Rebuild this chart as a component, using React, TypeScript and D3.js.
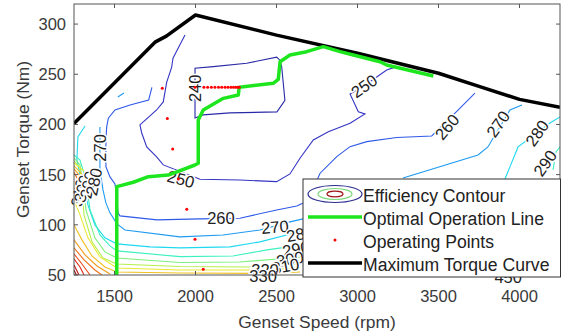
import React from 'react';
import * as d3 from 'd3';

const W = 569;
const H = 335;
const M = { left: 74, right: 560, top: 4, bottom: 275 };

const speedDomain = [1250, 4250];
const torqueDomain = [50, 320];
const speedTicks = [1500, 2000, 2500, 3000, 3500, 4000];
const torqueTicks = [50, 100, 150, 200, 250, 300];

// Maximum torque curve
const maxTorqueSpeed = [1250, 1750, 1820, 2000, 2500, 3000, 3500, 3750, 4000, 4250];
const maxTorqueValue = [201, 282, 288, 309, 289, 271, 251, 238, 225, 217];

// Optimal operation line
const optimalSpeed = [1514, 1514, 1616, 1709, 1832, 1997, 2017, 2017, 2048, 2172, 2264, 2270, 2480, 2511, 2522, 2583, 2686, 2789, 2892, 2974, 3139, 3180, 3468];
const optimalTorque = [50, 138, 142.4, 148, 149.6, 159.6, 161.3, 204.4, 214.4, 226, 229.3, 237, 241, 245, 262.5, 269.2, 272.5, 277.5, 272.5, 269.2, 262.5, 259.2, 248.3];

// Operating points
const pointSpeed = [1795, 1826, 1859, 1894, 1946, 1997, 2048, 1997, 2052, 2075, 2098, 2120, 2142, 2162, 2182, 2200, 2218, 2234, 2248, 2260, 2270];
const pointTorque = [236, 206, 175.5, 145.6, 115.5, 85.6, 55.7, 237, 237, 237, 237, 237, 237, 237, 237, 237, 237, 237, 237, 237, 237];

// BSFC contour lines (g/kWh), points are [speed rpm, torque Nm]
const c240 = [[1997, 218], [1997, 206.5], [2047, 209.5], [2213, 211.5], [2503, 212.5], [2552, 224], [2540, 244], [2532, 257.6], [2521, 264], [2501, 267], [2316, 261], [2110, 257.6], [1997, 256], [1997, 218]];
const c250 = [[1935, 289], [1861, 266], [1853, 257], [1822, 242], [1801, 222.4], [1760, 214.4], [1657, 199.5], [1668, 191.5], [1699, 177.6], [1760, 167.6], [1801, 159.7], [2028, 145.4], [2274, 144.7], [2501, 143], [2583, 150.7], [2645, 166.3], [2727, 184.6], [2820, 192.8], [2954, 201.2], [3046, 210.5], [3005, 212.7], [2954, 230.4], [3040, 238.3], [3180, 254.3], [3242, 257.6]];
const c260 = [[1731, 237], [1711, 224.4], [1596, 219.4], [1503, 214.4], [1462, 206.2], [1452, 197.8], [1447, 184.6], [1447, 158], [1472, 147.7], [1503, 140.7], [1515, 124.8], [1522, 111.8], [1534, 108.9], [1762, 104.9], [2028, 105.9], [2274, 106.6], [2501, 114.8], [2625, 118.8], [2686, 123.1], [2756, 146.7], [2769, 151.4], [2872, 167.9], [2954, 177.9], [3057, 182.9], [3242, 187], [3458, 188.5], [3602, 211.2], [3725, 231.1]];
const c270a = [[1410, 197.5], [1410, 154.7], [1429, 134.8], [1447, 121.8], [1472, 111.9], [1515, 100.9], [1565, 94.9], [1904, 88], [2170, 89.9], [2398, 94.9], [2583, 102.9], [2664, 105.9]];
const c270b = [[3281, 146.7], [3744, 169.6], [3805, 177.6], [3941, 214.4], [4015, 219.4]];
const c270c = [[1521, 227.4], [1558, 231.4]];
const c280a = [[1318, 198.5], [1274, 187.5], [1268, 164.6], [1287, 149.7], [1318, 134.8], [1336, 119.8], [1379, 99.9], [1441, 87], [1515, 81], [1719, 78], [1904, 77], [2213, 78], [2398, 83], [2664, 94]];
const c280b = [[3910, 145.7], [3941, 157.7], [3991, 177.6], [4188, 201.5], [4250, 207.5]];
const c290a = [[1250, 169.6], [1287, 164.6], [1324, 144.7], [1349, 114.8], [1410, 89.9], [1472, 79], [1515, 74], [1904, 68.3], [2231, 69], [2441, 75], [2664, 80]];
const c290b = [[4207, 154.7], [4225, 172.6], [4250, 177.6]];
const c300 = [[1250, 166.6], [1287, 159.7], [1305, 139.7], [1324, 114.8], [1379, 87], [1441, 73], [1515, 67], [1904, 62.4], [2274, 63], [2664, 68]];
const c310 = [[1250, 163.6], [1287, 156.7], [1299, 134.8], [1312, 109.9], [1361, 83], [1429, 67], [1515, 61], [1904, 58.4], [2336, 58], [2645, 61]];
const c320a = [[1250, 124.8], [1287, 109.9], [1336, 87], [1410, 68], [1515, 57], [1904, 55], [2398, 55], [2645, 57]];
const c320b = [[1250, 161.7], [1318, 152.7], [1336, 142.7], [1312, 131.8], [1250, 124.8]];
const c330a = [[1250, 99.9], [1299, 85], [1361, 69], [1441, 58], [1515, 53], [1904, 52], [2460, 51.5], [2645, 53]];
const c330b = [[1250, 158.7], [1299, 150.7], [1312, 142.7], [1287, 133.8], [1250, 128.8]];
const c340a = [[1250, 85], [1318, 70], [1392, 59], [1472, 51]];
const c340b = [[1250, 155.7], [1287, 148.7], [1293, 142.7], [1275, 135.8], [1250, 131.8]];
const c350a = [[1250, 77], [1312, 65], [1379, 55], [1422, 50]];
const c350b = [[1250, 152.7], [1268, 146.7], [1275, 142.7], [1262, 137.7], [1250, 134.8]];
const c360 = [[1250, 71], [1299, 61], [1349, 50]];
const c370 = [[1250, 66], [1287, 58], [1312, 50]];
const c380 = [[1250, 60], [1281, 50]];
const c390 = [[1250, 55], [1268, 49]];

const contourLevels = [240, 250, 260, 270, 270, 270, 280, 280, 290, 290, 300, 310, 320, 320, 330, 330, 340, 340, 350, 350, 360, 370, 380, 390];
const contourPaths = [c240, c250, c260, c270a, c270b, c270c, c280a, c280b, c290a, c290b, c300, c310, c320a, c320b, c330a, c330b, c340a, c340b, c350a, c350b, c360, c370, c380, c390];

const levelColors: Record<number, string> = {
  240: '#2a2aa8', 250: '#3434c4', 260: '#2f5ae8', 270: '#1e9af0', 280: '#1ed8f0',
  290: '#3cf0c0', 300: '#7cf07c', 310: '#b4f04a', 320: '#e8e830', 330: '#f0c020',
  340: '#f09a1a', 350: '#f07018', 360: '#ef4a18', 370: '#e02a1a', 380: '#c01616', 390: '#9a0c0c',
};

// contour labels: text, speed, torque, rotation (deg)
const labelText = ['240', '250', '250', '260', '260', '270', '270', '270', '280', '290', '280', '290', '300', '310', '320', '330', '310', '300', '290', '280', '450'];
const labelSpeed = [2000, 1910, 3040, 2157, 3552, 1410, 2490, 3867, 4108, 4157, 2645, 2620, 2583, 2555, 2429, 2417, 1280, 1300, 1336, 1372, 3930];
const labelTorque = [236, 145.7, 238.3, 106.9, 197.5, 176.6, 97.9, 200.5, 191.5, 161.6, 91, 76, 66, 59, 55, 49, 132, 136, 140, 143, 48];
const labelAngle = [-90, 15, -35, 0, -50, -90, -5, -55, -55, -55, -10, -10, -10, -10, 0, 0, -78, -78, -78, -78, 0];

const FONT = '"Liberation Sans", Arial, Helvetica, sans-serif';

export default function App() {
  const x = d3.scaleLinear().domain(speedDomain).range([M.left, M.right]);
  const y = d3.scaleLinear().domain(torqueDomain).range([M.bottom, M.top]);
  const line = d3.line<number[]>().x((d) => x(d[0])).y((d) => y(d[1]));

  const maxPts = maxTorqueSpeed.map((s, i) => [s, maxTorqueValue[i]]);
  const optPts = optimalSpeed.map((s, i) => [s, optimalTorque[i]]);

  const legendX = 303;
  const legendY = 179;
  const rowY = [194, 217, 240, 263];

  return (
    <svg width={W} height={H} style={{ position: 'absolute', left: 0, top: 0, background: '#fff' }} fontFamily={FONT}>
      <defs>
        <clipPath id="plot">
          <rect x={M.left} y={M.top} width={M.right - M.left} height={M.bottom - M.top} />
        </clipPath>
      </defs>
      <rect x={0} y={0} width={W} height={H} fill="#fff" />
      <g clipPath="url(#plot)">
        {contourPaths.map((p, i) => (
          <path key={i} d={line(p) || ''} fill="none" stroke={levelColors[contourLevels[i]]} strokeWidth={1.1} />
        ))}
      </g>
      {labelText.map((t, i) => (
        <text key={i} x={x(labelSpeed[i])} y={y(labelTorque[i])} fontSize={16.5} fill="#222" textAnchor="middle" dominantBaseline="central"
          stroke="#fff" strokeWidth={3} paintOrder="stroke"
          transform={`rotate(${labelAngle[i]},${x(labelSpeed[i])},${y(labelTorque[i])})`}>{t}</text>
      ))}
      <g clipPath="url(#plot)">
        <path d={line(maxPts) || ''} fill="none" stroke="#000" strokeWidth={3.5} strokeLinejoin="round" />
        <path d={line(optPts) || ''} fill="none" stroke="#1ee61e" strokeWidth={3.5} strokeLinejoin="round" />
        {pointSpeed.map((s, i) => (
          <circle key={i} cx={x(s)} cy={y(pointTorque[i])} r={1.5} fill="#ff0000" />
        ))}
      </g>
      {/* axes box */}
      <rect x={M.left} y={M.top} width={M.right - M.left} height={M.bottom - M.top} fill="none" stroke="#555" strokeWidth={1} />
      {speedTicks.map((t) => (
        <g key={t}>
          <line x1={x(t)} x2={x(t)} y1={M.bottom} y2={M.bottom - 4} stroke="#555" />
          <line x1={x(t)} x2={x(t)} y1={M.top} y2={M.top + 4} stroke="#555" />
          <text x={x(t)} y={296} fontSize={16.5} fill="#3a3a3a" textAnchor="middle" dominantBaseline="central">{t}</text>
        </g>
      ))}
      {torqueTicks.map((t) => (
        <g key={t}>
          <line x1={M.left} x2={M.left + 4} y1={y(t)} y2={y(t)} stroke="#555" />
          <line x1={M.right} x2={M.right - 4} y1={y(t)} y2={y(t)} stroke="#555" />
          <text x={66} y={y(t)} fontSize={16.5} fill="#3a3a3a" textAnchor="end" dominantBaseline="central">{t}</text>
        </g>
      ))}
      <text x={(M.left + M.right) / 2} y={322} fontSize={17.4} fill="#3a3a3a" textAnchor="middle" dominantBaseline="central">Genset Speed (rpm)</text>
      <text transform={`translate(23,${(M.top + M.bottom) / 2}) rotate(-90)`} fontSize={17.4} fill="#3a3a3a" textAnchor="middle" dominantBaseline="central">Genset Torque (Nm)</text>
      {/* legend */}
      <rect x={legendX} y={legendY} width={257.5} height={98} fill="#fff" stroke="#333" strokeWidth={1} />
      <ellipse cx={335} cy={rowY[0]} rx={27} ry={8.5} fill="none" stroke="#2d2d8f" strokeWidth={1.2} />
      <ellipse cx={335} cy={rowY[0]} rx={17} ry={5.5} fill="none" stroke="#7ad87a" strokeWidth={1.2} />
      <ellipse cx={335} cy={rowY[0]} rx={8} ry={2.8} fill="none" stroke="#a01818" strokeWidth={1.2} />
      <line x1={308} x2={362} y1={rowY[1]} y2={rowY[1]} stroke="#1ee61e" strokeWidth={3.5} />
      <circle cx={335} cy={rowY[2]} r={1.5} fill="#ff0000" />
      <line x1={308} x2={362} y1={rowY[3]} y2={rowY[3]} stroke="#000" strokeWidth={3.5} />
      {['Efficiency Contour', 'Optimal Operation Line', 'Operating Points', 'Maximum Torque Curve'].map((t, i) => (
        <text key={t} x={363} y={rowY[i] + 2} fontSize={17.6} fill="#222" dominantBaseline="central">{t}</text>
      ))}
    </svg>
  );
}
